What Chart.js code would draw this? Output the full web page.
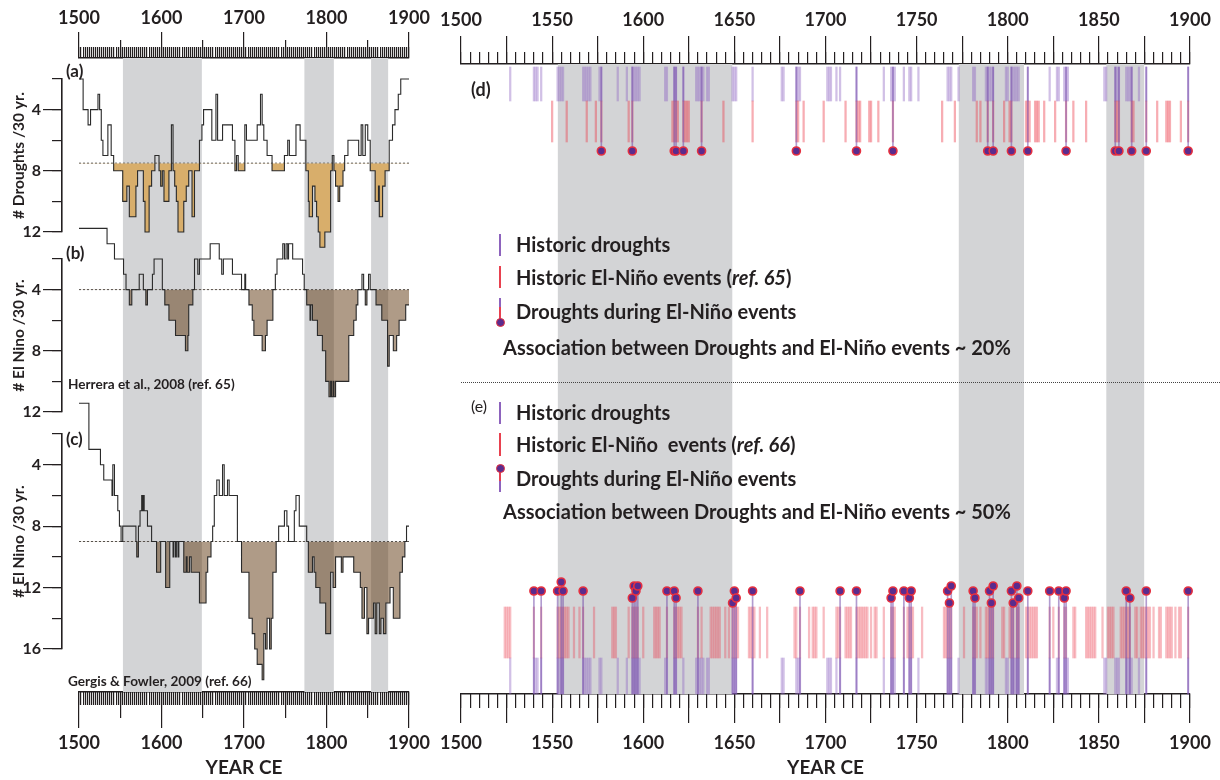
<!DOCTYPE html>
<html><head><meta charset="utf-8">
<script src="https://cdn.jsdelivr.net/npm/chart.js@4"></script>
<style>
html,body{margin:0;padding:0;background:#fff;}
#wrap{position:relative;width:1220px;height:780px;overflow:hidden;font-family:Lato,'Open Sans',sans-serif;color:#231f20;}
canvas.layer{position:absolute;left:0;top:0;}
.t{position:absolute;white-space:nowrap;line-height:1;}
.g{position:absolute;}
</style></head><body>
<div id="wrap">
<canvas id="cL0" class="layer" width="1220" height="780"></canvas>
<canvas id="cR0" class="layer" width="1220" height="780"></canvas>
<canvas id="cA" class="layer" width="1220" height="780"></canvas>
<canvas id="cB" class="layer" width="1220" height="780"></canvas>
<canvas id="cC" class="layer" width="1220" height="780"></canvas>
<canvas id="cD" class="layer" width="1220" height="780"></canvas>
<canvas id="cE" class="layer" width="1220" height="780"></canvas>
</div>
<script>
// ---------------- DATA ----------------
const YEAR_MIN = 1500, YEAR_MAX = 1900;
const BANDS = [[1553,1649],[1773,1809],[1854,1875]];

// (a) droughts per 30 yr (breakpoints: value holds from year until next year)
const aYears = [1500,1505,1511,1514,1523,1525,1527,1529,1535,1539,1542,1553,1558,1561,1569,1571,1578,1580,1585,1588,1592,1597,1599,1601,1603,1609,1612,1614,1616,1618,1620,1627,1630,1633,1637,1640,1646,1649,1651,1661,1666,1668,1674,1686,1689,1691,1693,1701,1703,1716,1720,1722,1724,1728,1734,1749,1753,1755,1763,1768,1775,1778,1779,1783,1786,1788,1790,1792,1798,1805,1807,1809,1811,1814,1816,1820,1822,1826,1839,1842,1844,1847,1850,1853,1859,1863,1864,1868,1871,1876,1880,1883,1887,1890,1900];
const aVals  = [2,4,5,4,3,4,6,7,5,7,8,10,9,11,9,8,10,12,9,8,7,8,9,8,10,8,5,8,9,10,12,10,9,8,11,8,6,5,4,6,3,6,5,6,8,7,8,5,6,5,3,5,6,7,8,7,6,7,5,6,8,10,11,9,10,11,12,13,12,8,7,8,9,10,9,8,7,6,7,5,7,5,6,8,10,9,11,9,8,6,5,4,3,2,2];
// (b) El Nino per 30 yr, Herrera et al. 2008
const bYears = [1500,1534,1543,1554,1557,1561,1564,1573,1578,1581,1583,1589,1591,1601,1604,1609,1617,1629,1632,1633,1638,1640,1644,1646,1659,1670,1673,1675,1686,1697,1701,1702,1706,1710,1712,1722,1726,1728,1735,1738,1740,1747,1749,1751,1753,1754,1759,1771,1773,1776,1780,1781,1783,1789,1795,1799,1803,1805,1806,1808,1809,1811,1827,1833,1836,1838,1843,1845,1847,1849,1851,1853,1860,1867,1874,1876,1881,1885,1888,1896,1900];
const bVals  = [0,1,2,3,4,5,4,3,4,5,4,3,2,4,5,6,7,8,7,5,4,2,3,2,1,2,3,2,3,4,3,4,5,6,7,8,7,6,4,3,2,1,2,1,2,1,2,3,4,5,6,5,6,7,8,10,11,10,11,10,11,10,7,6,5,4,3,4,5,4,3,4,5,6,9,7,8,7,6,5,5];
// (c) El Nino per 30 yr, Gergis & Fowler 2009
const cYears = [1500,1512,1526,1530,1540,1541,1543,1547,1549,1551,1553,1569,1570,1572,1574,1576,1577,1578,1579,1583,1588,1594,1599,1605,1610,1614,1615,1617,1618,1620,1621,1627,1630,1631,1634,1636,1646,1654,1656,1660,1662,1664,1667,1670,1674,1676,1680,1682,1692,1697,1706,1710,1713,1716,1722,1724,1726,1728,1731,1733,1735,1739,1742,1749,1752,1754,1761,1763,1767,1776,1778,1783,1785,1787,1792,1799,1805,1808,1811,1818,1820,1833,1841,1843,1846,1849,1851,1857,1859,1861,1864,1866,1869,1872,1877,1881,1889,1892,1895,1897,1900];
const cVals  = [0,3,4,5,6,4,6,7,8,9,8,9,10,8,7,6,7,6,7,8,9,11,9,12,9,10,9,10,9,10,9,11,10,11,10,11,13,11,10,9,8,6,5,6,4,6,5,6,9,11,14,15,16,17,18,15,16,14,16,14,11,9,8,7,8,9,7,6,8,9,11,10,11,12,13,15,11,12,10,11,10,11,12,14,12,15,14,13,15,13,15,14,15,13,12,14,11,10,9,8,8];
const THRESH = {a:7.5, b:4, c:9};

// events
const droughtYears = [1527,1540,1541,1542,1544,1553,1554,1555,1556,1567,1568,1569,1570,1571,1576,1577,1586,1591,1594,1595,1596,1597,1598,1612,1613,1617,1618,1622,1629,1630,1631,1632,1633,1635,1636,1649,1650,1651,1660,1676,1677,1684,1685,1686,1701,1702,1703,1706,1708,1717,1732,1736,1737,1738,1743,1746,1747,1751,1767,1768,1769,1773,1781,1782,1788,1789,1790,1791,1792,1799,1800,1802,1803,1804,1805,1806,1811,1823,1827,1828,1831,1832,1833,1853,1854,1859,1860,1861,1865,1866,1867,1868,1872,1876,1899];
const nino65Years = [1550,1558,1569,1574,1577,1592,1594,1616,1617,1618,1619,1622,1623,1624,1625,1632,1644,1660,1684,1685,1688,1699,1711,1717,1718,1719,1724,1725,1729,1737,1764,1771,1783,1785,1789,1792,1798,1801,1802,1810,1811,1812,1815,1816,1817,1820,1826,1832,1836,1843,1859,1860,1861,1868,1869,1876,1882,1887,1888,1889,1895,1899];
const dDotYears = [1577,1594,1617,1618,1622,1632,1684,1717,1737,1789,1792,1802,1811,1832,1859,1861,1868,1876,1899];
const nino66Years = [1524,1525,1526,1527,1540,1544,1553,1554,1555,1556,1557,1558,1559,1562,1565,1567,1573,1583,1584,1585,1592,1594,1595,1596,1597,1600,1606,1607,1608,1609,1613,1617,1618,1619,1620,1621,1630,1632,1637,1638,1639,1640,1641,1642,1645,1647,1649,1650,1651,1652,1658,1659,1660,1661,1664,1668,1683,1684,1686,1691,1693,1694,1695,1699,1706,1707,1708,1711,1712,1713,1714,1717,1718,1719,1720,1721,1722,1723,1725,1727,1728,1732,1736,1737,1738,1743,1745,1746,1747,1748,1753,1765,1766,1767,1768,1769,1776,1781,1782,1783,1785,1788,1789,1790,1791,1792,1797,1798,1801,1802,1803,1805,1806,1810,1811,1812,1813,1814,1815,1816,1823,1825,1828,1831,1832,1836,1837,1843,1844,1845,1846,1847,1848,1852,1855,1856,1857,1858,1862,1863,1864,1865,1866,1867,1870,1871,1873,1874,1875,1876,1877,1878,1880,1883,1884,1887,1888,1889,1890,1892,1894,1895,1899];
const eDotYears = [1540,1544,1553,1555,1556,1567,1594,1595,1596,1597,1613,1617,1618,1630,1649,1650,1651,1660,1686,1708,1717,1736,1737,1743,1746,1747,1767,1768,1769,1781,1782,1790,1791,1792,1802,1803,1805,1806,1811,1823,1828,1831,1832,1865,1867,1876,1899];
const eDotTier  = [2,2,2,4,2,2,1,3,2,3,2,2,1,2,0,2,1,2,2,2,2,1,2,2,1,2,2,0,3,2,1,2,0,3,2,0,3,1,2,2,2,1,2,2,1,2,2];

// ticks
const L_MAJOR = [1500,1600,1700,1800,1900];
const L_MID   = [1550,1650,1750,1850];
const R_TICKS = [1500,1525,1550,1575,1600,1625,1650,1675,1700,1725,1750,1775,1800,1825,1850,1875,1900];
const R_LABELS = [1500,1550,1600,1650,1700,1750,1800,1850,1900];
const A_TICKS = [4,8,12], B_TICKS = [4,8,12], C_TICKS = [4,8,12,16];

// ---------------- STYLE / LAYOUT ----------------
const W = 1220, H = 780;
const FONT = "Lato, 'Open Sans', sans-serif";
const INK = '#231f20', LINE = '#2a2a2a', GRAY = '#d3d4d6';
const TAN = '#d8ae6b', BROWN = 'rgba(95,55,15,0.5)';
const PURPLE = 'rgba(145,105,195,0.42)', RED = 'rgba(235,60,75,0.42)', RED_E = 'rgba(235,60,75,0.34)';
const STEM = 'rgba(115,75,170,0.55)';
const DOT_FILL = '#5a2c8e', DOT_EDGE = '#e6303f';
const LEFT = {l:79, r:409, top:58, bottom:692};
const RIGHT = {l:461, r:1190, top:64, bottom:694};
const D_ROWS = {drought:[3,37], nino:[37,78], dot:87, max:92, top:64, bottom:156};
const E_ROWS = {drought:[0,36], nino:[36,87], tiers:[91,96,103,108,112], max:119, top:575, bottom:694};

const BASE = {responsive:false, animation:false, events:[], plugins:{legend:{display:false}, tooltip:{enabled:false}}};
const fixH = h => s => { s.height = h; };
const fixW = w => s => { s.width = w; };
const useTicks = arr => s => { s.ticks = arr.map(v => ({value:v})); };
const pts = (xs, ys) => xs.map((x,i) => ({x, y: ys[i]}));
const bandPts = b => { const o=[]; b.forEach(([s,e]) => o.push({x:s,y:1},{x:e,y:1},{x:e,y:null})); return o; };
const tickFont = {family:FONT, size:18, weight:'bold'};

function xAxis(pos, weight, opt){
  return Object.assign({type:'linear', axis:'x', position:pos, weight, min:YEAR_MIN, max:YEAR_MAX,
    grid:{drawOnChartArea:false, color:INK, lineWidth:1.2, tickLength:opt.tl},
    border:{display:!!opt.border, color:INK, width:1.6},
    ticks:{display:!!opt.labels, autoSkip:false, maxRotation:0, padding:opt.pad||0, color:INK, font:tickFont,
      stepSize:opt.step, callback:opt.cb || (v => String(v))},
    afterFit: fixH(opt.h)}, opt.extra || {});
}

// expand chartArea while drawing datasets so fills can overflow the axis range
const expandFill = {
  id:'expandFill',
  beforeDatasetsDraw(chart){ chart.$saved = Object.assign({}, chart.chartArea); chart.chartArea.top = 0; chart.chartArea.bottom = chart.height; },
  afterDatasetsDraw(chart){ Object.assign(chart.chartArea, chart.$saved); }
};

// ---------------- LEFT FRAME ----------------
new Chart(document.getElementById('cL0'), {
  type:'line',
  data:{datasets:[{data:bandPts(BANDS), xAxisID:'xb', yAxisID:'yb', fill:'start', backgroundColor:GRAY, borderWidth:0, pointRadius:0, spanGaps:false}]},
  options:Object.assign({}, BASE, {
    layout:{padding:{left:LEFT.l, right:W-LEFT.r, top:0, bottom:0}},
    scales:{
      xt:  xAxis('top', 2, {tl:26, h:LEFT.top, labels:true, pad:3, border:true, extra:{afterBuildTicks:useTicks(L_MAJOR)}}),
      xtm: xAxis('top', 1, {tl:18, h:0, extra:{afterBuildTicks:useTicks(L_MID)}}),
      xtn: xAxis('top', 0, {tl:11, h:0, step:2.5}),
      xb:  xAxis('bottom', 2, {tl:36, h:H-LEFT.bottom, labels:true, pad:4, border:true,
             extra:{afterBuildTicks:useTicks(L_MAJOR), title:{display:true, text:'YEAR CE', color:INK, font:{family:FONT,size:19,weight:'bold'}, padding:{top:0,bottom:1}}}}),
      xbm: xAxis('bottom', 1, {tl:26, h:0, extra:{afterBuildTicks:useTicks(L_MID)}}),
      xbn: xAxis('bottom', 0, {tl:13, h:0, step:2.5}),
      yb: {type:'linear', axis:'y', min:0, max:1, display:false}
    }
  })
});

// ---------------- RIGHT FRAME ----------------
const rLabel = v => R_LABELS.includes(v) ? String(v) : '';
new Chart(document.getElementById('cR0'), {
  type:'line',
  data:{datasets:[{data:bandPts(BANDS), xAxisID:'xb', yAxisID:'yb', fill:'start', backgroundColor:GRAY, borderWidth:0, pointRadius:0, spanGaps:false}]},
  options:Object.assign({}, BASE, {
    layout:{padding:{left:RIGHT.l, right:W-RIGHT.r, top:0, bottom:0}},
    scales:{
      xt:  xAxis('top', 1, {tl:28, h:RIGHT.top, labels:true, pad:5, border:true, cb:rLabel, extra:{afterBuildTicks:useTicks(R_TICKS)}}),
      xtn: xAxis('top', 0, {tl:12, h:0, step:5}),
      xb:  xAxis('bottom', 1, {tl:29, h:H-RIGHT.bottom, labels:true, pad:9, border:true, cb:rLabel,
             extra:{afterBuildTicks:useTicks(R_TICKS), title:{display:true, text:'YEAR CE', color:INK, font:{family:FONT,size:19,weight:'bold'}, padding:{top:0,bottom:1}}}}),
      xbn: xAxis('bottom', 0, {tl:14, h:0, step:5}),
      yb: {type:'linear', axis:'y', min:0, max:1, display:false}
    }
  })
});

// ---------------- LEFT PANELS ----------------
function panel(id, p){
  const yCommon = {type:'linear', axis:'y', position:'left', reverse:true, min:p.min, max:p.max};
  return new Chart(document.getElementById(id), {
    type:'line',
    data:{datasets:[
      {data:pts(p.years, p.vals), stepped:true, borderColor:LINE, borderWidth:1.1, pointRadius:0, clip:false,
       fill:{target:{value:p.thr}, above:'rgba(0,0,0,0)', below:p.fill}},
      {data:[{x:YEAR_MIN,y:p.thr},{x:YEAR_MAX,y:p.thr}], borderColor:'#555', borderWidth:1, borderDash:[2,2], pointRadius:0, fill:false}
    ]},
    options:Object.assign({}, BASE, {
      layout:{padding:{left:0, right:W-LEFT.r, top:p.top, bottom:H-p.bottom}},
      scales:{
        x:{type:'linear', min:YEAR_MIN, max:YEAR_MAX, display:false},
        y:Object.assign({}, yCommon, {weight:0, afterFit:fixW(LEFT.l-62), grid:{display:false}, border:{display:false}, ticks:{display:false}}),
        yMinor:Object.assign({}, yCommon, {weight:1, afterFit:fixW(0),
          grid:{drawOnChartArea:false, tickLength:10, color:INK, lineWidth:1.2},
          border:{display:true, color:INK, width:1.6}, ticks:{display:false, stepSize:2}}),
        yMajor:Object.assign({}, yCommon, {weight:2, afterFit:fixW(62), afterBuildTicks:useTicks(p.ticks),
          grid:{drawOnChartArea:false, tickLength:19, color:INK, lineWidth:1.2},
          border:{display:false},
          ticks:{padding:2, color:INK, font:{family:FONT,size:16,weight:'bold'}, callback:v => String(v)},
          title:{display:true, text:p.title, color:INK, font:{family:FONT,size:15.5,weight:'bold'}, padding:{top:10,bottom:0}}})
      }
    }),
    plugins:[expandFill]
  });
}
panel('cA', {years:aYears, vals:aVals, thr:THRESH.a, fill:TAN, min:2, max:12, top:79, bottom:232, ticks:A_TICKS, title:'# Droughts /30 yr.'});
panel('cB', {years:bYears, vals:bVals, thr:THRESH.b, fill:BROWN, min:2, max:12, top:259, bottom:412, ticks:B_TICKS, title:'# El Nino /30 yr.'});
panel('cC', {years:cYears, vals:cVals, thr:THRESH.c, fill:BROWN, min:2, max:16, top:434, bottom:649, ticks:C_TICKS, title:'# El Nino /30 yr.'});

// ---------------- EVENT PANELS ----------------
function eventChart(id, rows, reverse, sets){
  return new Chart(document.getElementById(id), {
    type:'bar',
    data:{datasets:sets},
    options:Object.assign({}, BASE, {
      layout:{padding:{left:RIGHT.l, right:W-RIGHT.r, top:rows.top, bottom:H-rows.bottom}},
      scales:{
        x:{type:'linear', min:YEAR_MIN, max:YEAR_MAX, offset:false, display:false},
        y:{type:'linear', min:0, max:rows.max, reverse, display:false}
      }
    })
  });
}
const barSet = (years, range, color, thick) => ({type:'bar', data:years.map(x => ({x, y:range})), backgroundColor:color, barThickness:thick, grouped:false, borderWidth:0, clip:false});
const dotStyle = {pointRadius:4, pointBackgroundColor:DOT_FILL, pointBorderColor:DOT_EDGE, pointBorderWidth:1.6, showLine:false, clip:false};

eventChart('cD', D_ROWS, true, [
  Object.assign({type:'scatter', data:dDotYears.map(x => ({x, y:D_ROWS.dot})), order:0}, dotStyle),
  Object.assign(barSet(dDotYears, [D_ROWS.drought[0], D_ROWS.dot], STEM, 1), {order:1}),
  Object.assign(barSet(nino65Years, D_ROWS.nino, RED, 1.6), {order:2}),
  Object.assign(barSet(droughtYears, D_ROWS.drought, PURPLE, 1.6), {order:3})
]);
eventChart('cE', E_ROWS, false, [
  Object.assign({type:'scatter', data:eDotYears.map((x,i) => ({x, y:E_ROWS.tiers[eDotTier[i]]})), order:0}, dotStyle),
  Object.assign(barSet(eDotYears, null, STEM, 1), {data:eDotYears.map((x,i) => ({x, y:[E_ROWS.drought[0], E_ROWS.tiers[eDotTier[i]]]})), order:1}),
  Object.assign(barSet(nino66Years, E_ROWS.nino, RED_E, 1.6), {order:2}),
  Object.assign(barSet(droughtYears, E_ROWS.drought, PURPLE, 1.6), {order:3})
]);

// ---------------- TEXT & LEGENDS ----------------
const wrap = document.getElementById('wrap');
function txt(html, x, yc, size, weight, extra){
  const d = document.createElement('div'); d.className = 't'; d.innerHTML = html;
  Object.assign(d.style, {left:x+'px', top:(yc - size*0.55)+'px', fontSize:size+'px', fontWeight:weight}, extra||{});
  wrap.appendChild(d); return d;
}
function glyph(x, y, w, h, bg, extra){
  const d = document.createElement('div'); d.className = 'g';
  Object.assign(d.style, {left:x+'px', top:y+'px', width:w+'px', height:h+'px', background:bg}, extra||{});
  wrap.appendChild(d); return d;
}
function dotGlyph(cx, cy){ glyph(cx-4.5, cy-4.5, 9, 9, DOT_FILL, {borderRadius:'50%', border:'1.5px solid '+DOT_EDGE, boxSizing:'border-box'}); }

txt('(a)', 66, 71, 17, 700);
txt('(b)', 66, 253, 17, 700);
txt('(c)', 66, 439, 17, 700);
txt('Herrera et al., 2008 (ref. 65)', 68, 385, 13.6, 700);
txt('Gergis &amp; Fowler, 2009 (ref. 66)', 68, 682, 13.6, 700);

const LP = '#8d63bd', LR = '#e8414f';
const LS = 20;
txt('(d)', 471, 90, 18, 700);
glyph(499, 234, 2, 22, LP); txt('Historic droughts', 516, 245, LS, 700);
glyph(499, 266, 2, 22, LR); txt('Historic El-Niño events (<i>ref. 65</i>)', 516, 278, LS, 700);
glyph(499, 298, 2, 9, LP); glyph(499, 307, 2, 14, LR); dotGlyph(500, 322);
txt('Droughts during El-Niño events', 516, 312, LS, 700);
txt('Association between Droughts and El-Niño events ~ 20%', 503, 348, LS, 700);

glyph(461, 382, W-461, 0, 'transparent', {borderTop:'1px dotted #444'});

txt('(e)', 471, 407, 16, 400);
glyph(499, 402, 2, 22, LP); txt('Historic droughts', 516, 413, LS, 700);
glyph(499, 433, 2, 23, LR); txt('Historic El-Niño&nbsp; events (<i>ref. 66</i>)', 516, 445, LS, 700);
glyph(499, 468, 2, 13, LR); glyph(499, 481, 2, 11, LP); dotGlyph(500, 468);
txt('Droughts during El-Niño events', 516, 479, LS, 700);
txt('Association between Droughts and El-Niño events ~ 50%', 503, 512, LS, 700);
</script>
</body></html>
